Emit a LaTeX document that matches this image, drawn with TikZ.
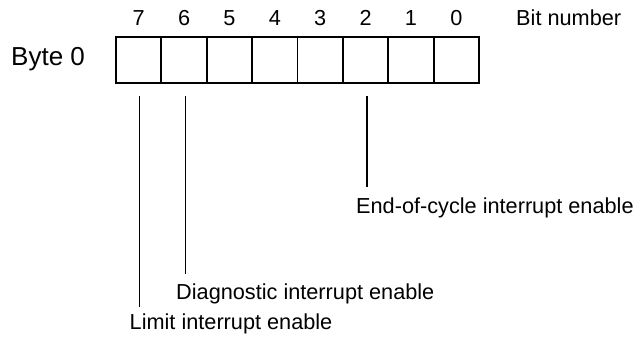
\documentclass[tikz,border=0pt]{standalone}
\usepackage{fontspec}
\setmainfont{Liberation Sans}
\usetikzlibrary{positioning}

\begin{document}
\begin{tikzpicture}[
  x=1pt, y=-1pt,
  font=\fontsize{21.7}{25}\selectfont,
  bitcell/.style={draw, line width=1.8pt, minimum width=45.375pt, minimum height=46pt, inner sep=0pt, outer sep=0pt},
  bitnum/.style={anchor=base, inner sep=0pt},
  flaglabel/.style={anchor=base west, inner sep=0pt},
  flagline/.style={line width=1.5pt}
]
  \useasboundingbox (0,0) rectangle (639,343);

  % Byte row
  \node[anchor=base west, inner sep=0pt, font=\fontsize{26}{30}\selectfont] (byte) at (11,65) {Byte 0};
  \node[bitcell] (b7) at (138.7,60) {};
  \foreach \i [remember=\i as \prev (initially 7)] in {6,5,4,3,2,1,0}
    \node[bitcell, right=0pt of b\prev] (b\i) {};

  % Bit numbers
  \foreach \i in {0,...,7}
    \node[bitnum] (n\i) at ([yshift=12pt]b\i.north) {\i};
  \node[flaglabel] (bitlbl) at (516,25) {Bit number};

  % Flag labels
  \node[flaglabel] (eoc) at (356,213) {End-of-cycle interrupt enable};
  \node[flaglabel] (diag) at (176,299) {Diagnostic interrupt enable};
  \node[flaglabel] (limit) at (129.5,329) {Limit interrupt enable};

  \draw[flagline] ([xshift=1.5pt,yshift=-13pt]b2.south) -- ([xshift=1.5pt,yshift=10.5pt]b2.south |- eoc.north);
  \draw[flagline] ([xshift=1.5pt,yshift=-13pt]b6.south) -- ([xshift=1.5pt,yshift=9pt]b6.south |- diag.north);
  \draw[flagline] ([xshift=1pt,yshift=-13pt]b7.south) -- ([xshift=1pt,yshift=6pt]b7.south |- limit.north);

\end{tikzpicture}
\end{document}
